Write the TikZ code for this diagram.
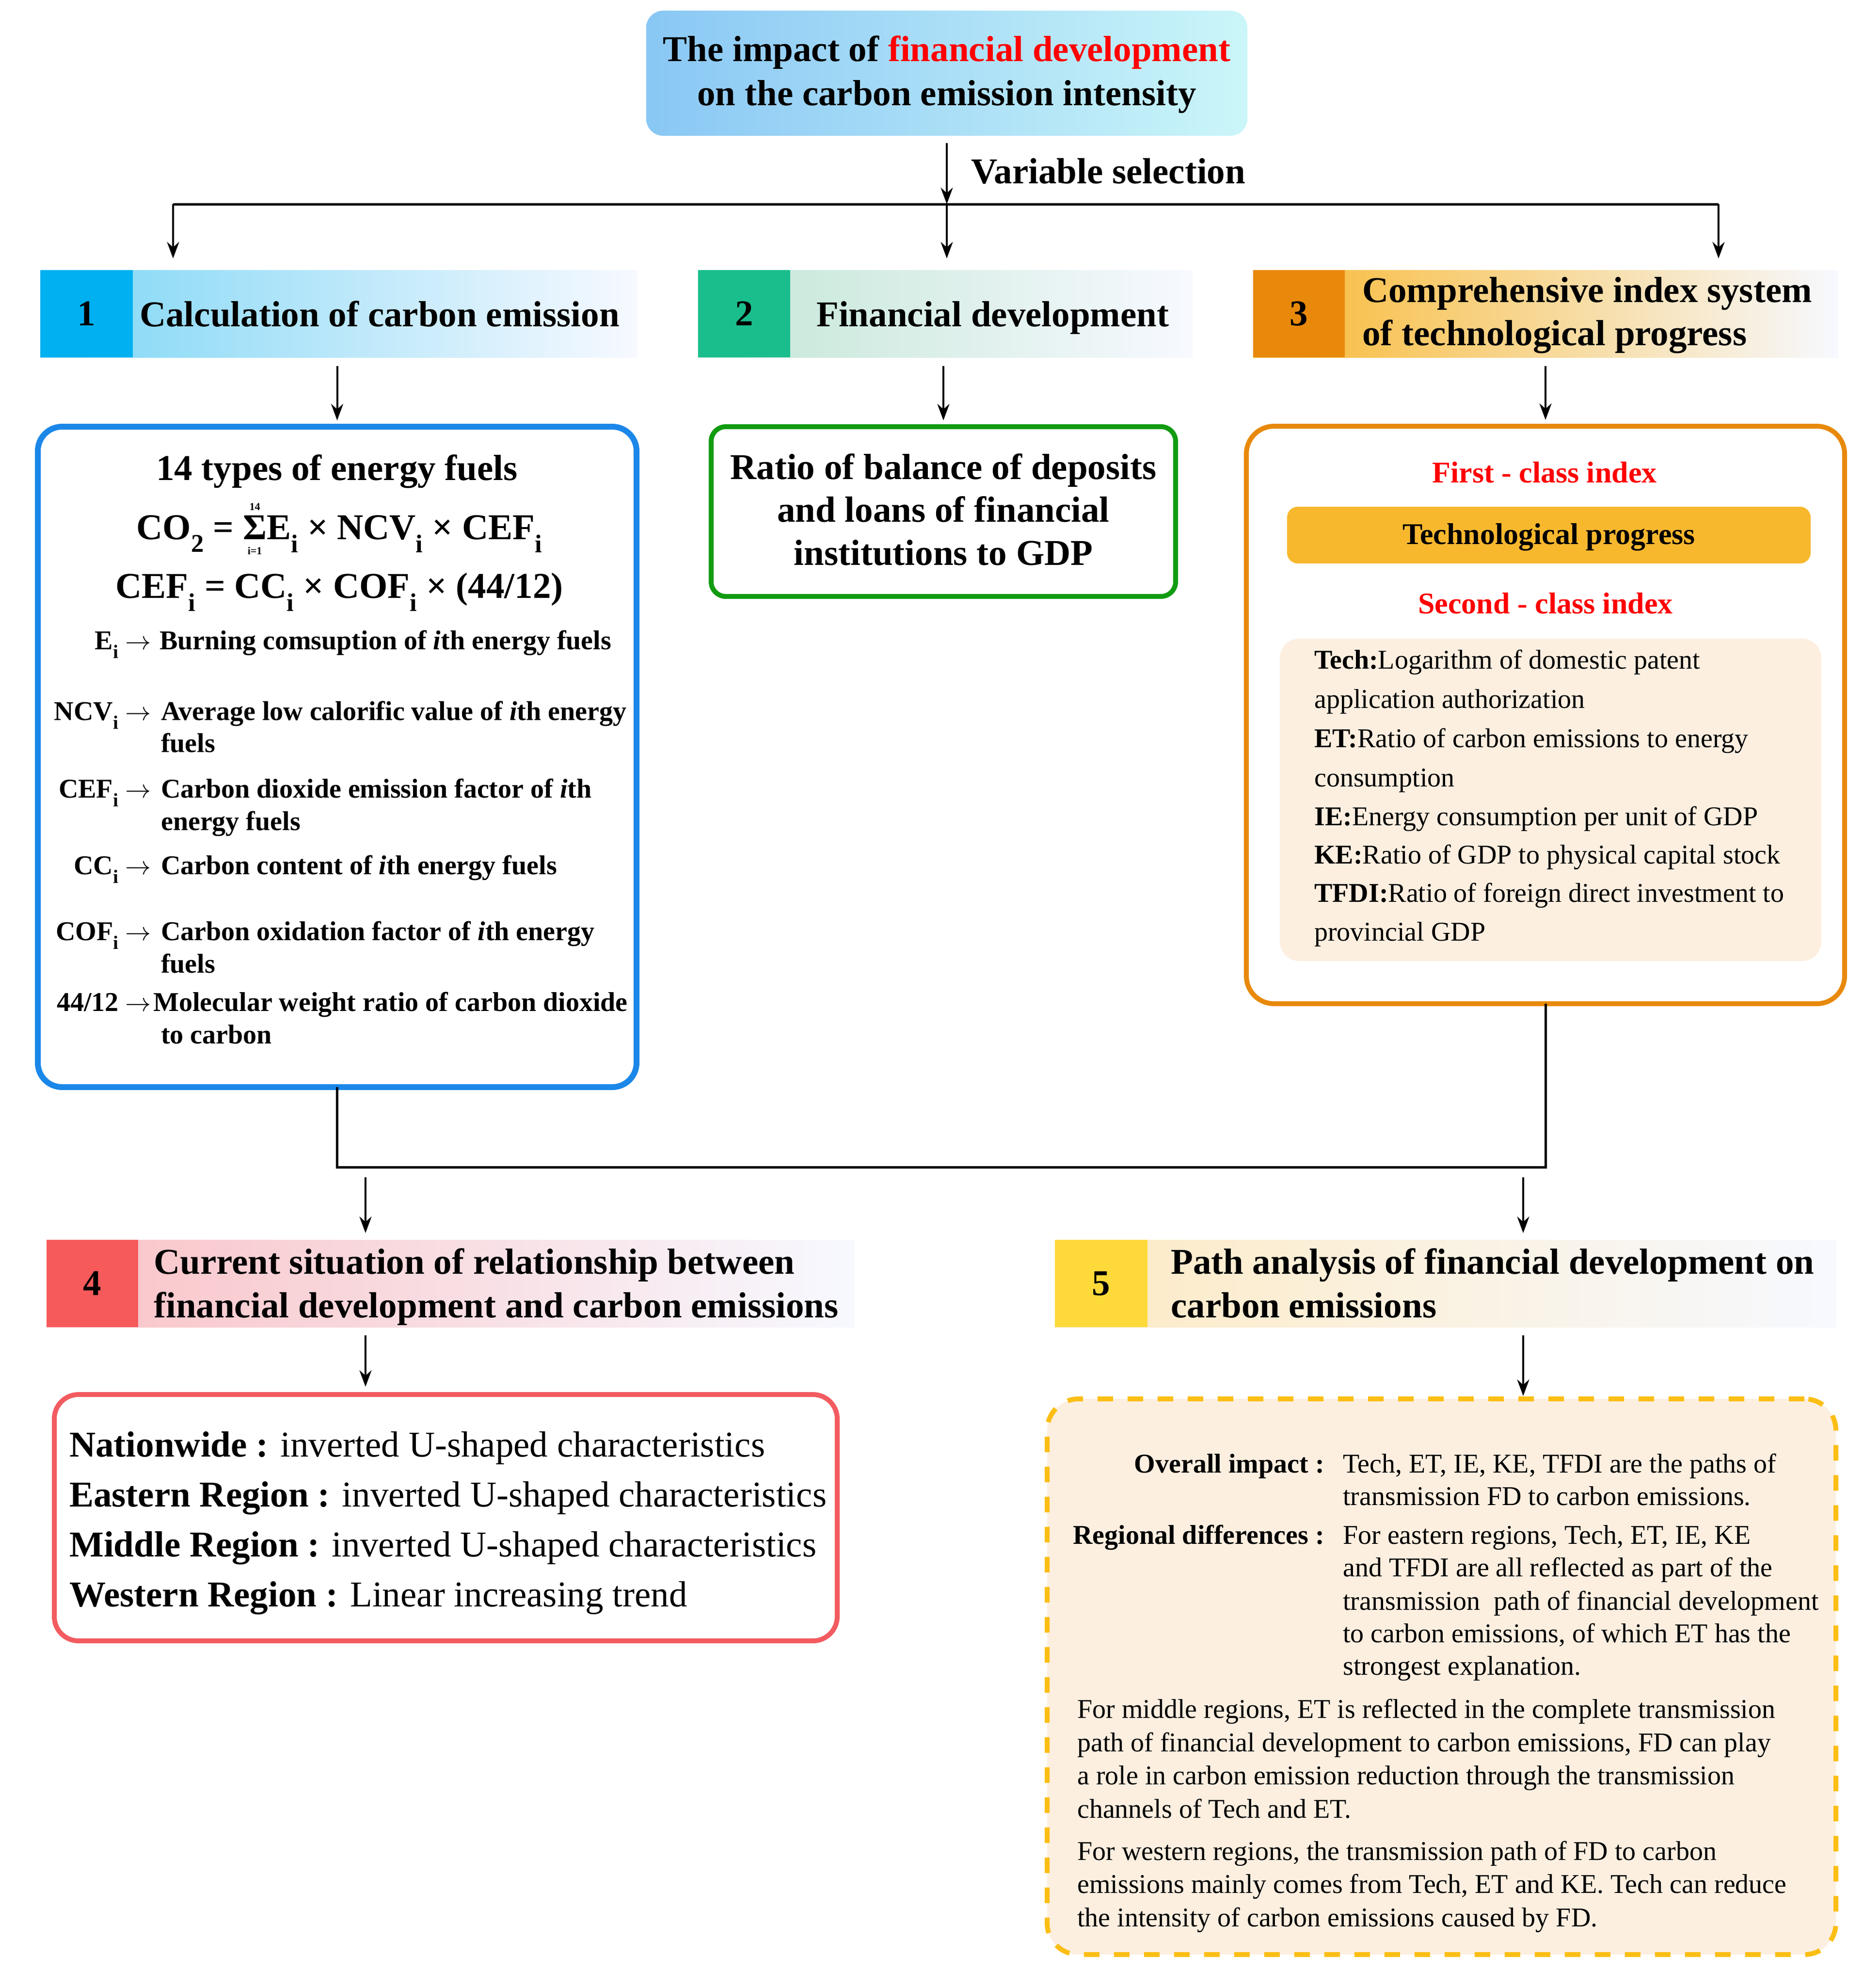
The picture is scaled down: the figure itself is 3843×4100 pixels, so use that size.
\documentclass[tikz,border=0pt]{standalone}
\usepackage{fontspec}
\usepackage{graphicx}
\setmainfont{Liberation Serif}
\usetikzlibrary{arrows.meta}
\definecolor{tL}{RGB}{137,199,244}
\definecolor{tR}{RGB}{203,246,249}
\definecolor{n1c}{RGB}{0,176,240}
\definecolor{h1L}{RGB}{125,214,245}
\definecolor{n2c}{RGB}{26,190,141}
\definecolor{h2L}{RGB}{194,230,213}
\definecolor{n3c}{RGB}{232,137,12}
\definecolor{h3L}{RGB}{248,184,48}
\definecolor{n4c}{RGB}{246,90,90}
\definecolor{h4L}{RGB}{249,194,198}
\definecolor{n5c}{RGB}{253,218,58}
\definecolor{h5L}{RGB}{253,234,196}
\definecolor{hR}{RGB}{247,249,255}
\definecolor{b1c}{RGB}{27,135,232}
\definecolor{b2c}{RGB}{17,155,17}
\definecolor{b3c}{RGB}{232,137,12}
\definecolor{b4c}{RGB}{242,91,96}
\definecolor{b5c}{RGB}{251,190,20}
\definecolor{beige}{RGB}{253,239,224}
\definecolor{barc}{RGB}{248,184,46}
\definecolor{fdred}{RGB}{255,0,0}
\newcommand\fsA{\fontsize{75}{90}\selectfont}
\newcommand\fsB{\fontsize{62}{75}\selectfont}
\newcommand\fsC{\fontsize{56}{68}\selectfont}
\newcommand\sbi{\textsubscript{i}}
\newcommand\arw{\resizebox{0.95em}{!}{$\rightarrow$}}
\newcommand\sumop{\setbox0\hbox{Σ}\leavevmode\hbox to\wd0{\hss\raisebox{0.8em}{\fontsize{22}{22}\selectfont 14}\hss}\kern-\wd0\hbox to\wd0{\hss\raisebox{-0.42em}{\fontsize{22}{22}\selectfont i=1}\hss}\kern-\wd0\box0}
\begin{document}
\begin{tikzpicture}[x=1pt,y=-1pt,
  tx/.style={inner sep=0pt, anchor=base},
  txw/.style={inner sep=0pt, anchor=base west},
  txe/.style={inner sep=0pt, anchor=base east},
  hdr/.style={minimum height=180pt, inner sep=0pt, outer sep=0pt, draw=none},
  num/.style={minimum height=180pt, inner sep=0pt, outer sep=0pt, font=\fsA\bfseries},
  frame/.style={inner sep=0pt, outer sep=0pt, line width=10pt},
  arr/.style={line width=4pt, -{Stealth[length=34pt,width=25pt]}},
  conn/.style={line width=5pt}]
\useasboundingbox (0,0) rectangle (3843,4100);
\fill[white] (0,0) rectangle (3843,4100);

% title
\node[rounded corners=35pt, left color=tL, right color=tR, minimum width=1240pt, minimum height=258pt, inner sep=0pt, outer sep=0pt] (title) at (1953,151) {};
\node[tx, font=\fsA\bfseries] (tl1) at (1953,127) {The impact of \textcolor{fdred}{financial development}};
\node[tx, font=\fsA\bfseries] (tl2) at (1953,217) {on the carbon emission intensity};
\node[txw, font=\fsA\bfseries] (vsel) at (2003,378) {Variable selection};

% headers
\node[hdr, left color=h1L, right color=hR, minimum width=1232pt] (h1) at (699,647) {};
\node[num, fill=n1c, minimum width=191pt] (n1) at (178.5,647) {1};
\node[txw, font=\fsA\bfseries] (h1t) at (288,673) {Calculation of carbon emission};

\node[hdr, left color=h2L, right color=hR, minimum width=1020pt] (h2) at (1950,647) {};
\node[num, fill=n2c, minimum width=190pt] (n2) at (1535,647) {2};
\node[txw, font=\fsA\bfseries] (h2t) at (1684,673) {Financial development};

\node[hdr, left color=h3L, right color=hR, minimum width=1207pt] (h3) at (3188.5,647) {};
\node[num, fill=n3c, minimum width=189pt] (n3) at (2679.5,647) {3};
\node[txw, font=\fsA\bfseries] (h3t1) at (2810,623) {Comprehensive index system};
\node[txw, font=\fsA\bfseries] (h3t2) at (2810,712) {of technological progress};

% top connectors
\coordinate (vs) at (1953,421);
\coordinate (cl) at (357,421);
\coordinate (cr) at (3545,421);
\draw[arr, shorten <=15pt] (title.south) -- (vs);
\draw[conn] (cl) -- (cr);
\draw[arr, shorten >=24pt] (cl) -- (cl |- h1.north);
\draw[arr, shorten >=24pt] (vs) -- (vs |- h2.north);
\draw[arr, shorten >=24pt] (cr) -- (cr |- h3.north);

% box 1
\node[frame, draw=b1c, line width=12pt, rounded corners=50pt, minimum width=1235pt, minimum height=1362pt] (b1) at (695.5,1561) {};
\node[tx, font=\fsA\bfseries] (b1t) at (695,990) {14 types of energy fuels};
\node[tx, font=\fsA\bfseries] (eq1) at (700,1112) {CO\textsubscript{2} = \sumop E\sbi{} × NCV\sbi{} × CEF\sbi};
\node[tx, font=\fsA\bfseries] (eq2) at (700,1233) {CEF\sbi{} = CC\sbi{} × COF\sbi{} × (44/12)};
\node[txe, font=\fsC\bfseries] (d1l) at (312,1339) {E\sbi{} \arw};
\node[txw, font=\fsC\bfseries] (d1a) at (329,1339) {Burning comsuption of \textit{i}th energy fuels};
\node[txe, font=\fsC\bfseries] (d2l) at (312,1485) {NCV\sbi{} \arw};
\node[txw, font=\fsC\bfseries] (d2a) at (332,1485) {Average low calorific value of \textit{i}th energy};
\node[txw, font=\fsC\bfseries] (d2b) at (332,1551) {fuels};
\node[txe, font=\fsC\bfseries] (d3l) at (312,1645) {CEF\sbi{} \arw};
\node[txw, font=\fsC\bfseries] (d3a) at (332,1645) {Carbon dioxide emission factor of \textit{i}th};
\node[txw, font=\fsC\bfseries] (d3b) at (332,1712) {energy fuels};
\node[txe, font=\fsC\bfseries] (d4l) at (312,1803) {CC\sbi{} \arw};
\node[txw, font=\fsC\bfseries] (d4a) at (332,1803) {Carbon content of \textit{i}th energy fuels};
\node[txe, font=\fsC\bfseries] (d5l) at (312,1939) {COF\sbi{} \arw};
\node[txw, font=\fsC\bfseries] (d5a) at (332,1939) {Carbon oxidation factor of \textit{i}th energy};
\node[txw, font=\fsC\bfseries] (d5b) at (332,2006) {fuels};
\node[txe, font=\fsC\bfseries] (d6l) at (312,2085) {44/12 \arw};
\node[txw, font=\fsC\bfseries] (d6a) at (316,2085) {Molecular weight ratio of carbon dioxide};
\node[txw, font=\fsC\bfseries] (d6b) at (332,2152) {to carbon};

% box 2
\node[frame, draw=b2c, rounded corners=30pt, minimum width=958pt, minimum height=350pt] (b2) at (1946,1055) {};
\node[tx, font=\fsA\bfseries] (b2a) at (1946,988) {Ratio of balance of deposits};
\node[tx, font=\fsA\bfseries] (b2b) at (1946,1076) {and loans of financial};
\node[tx, font=\fsA\bfseries] (b2c) at (1946,1165) {institutions to GDP};

% box 3
\node[frame, draw=b3c, rounded corners=57pt, minimum width=1234pt, minimum height=1191pt] (b3) at (3188,1474.5) {};
\node[tx, font=\fsB\bfseries, text=fdred] (fc) at (3186,995) {First - class index};
\node[inner sep=0pt, outer sep=0pt, fill=barc, rounded corners=22pt, minimum width=1080pt, minimum height=117pt] (bar) at (3195,1103.5) {};
\node[tx, font=\fsB\bfseries] (bart) at (3195,1122) {Technological progress};
\node[tx, font=\fsB\bfseries, text=fdred] (sc) at (3188,1265) {Second - class index};
\node[inner sep=0pt, outer sep=0pt, fill=beige, rounded corners=40pt, minimum width=1117pt, minimum height=665pt] (inner) at (3198.5,1649.5) {};
\node[txw, font=\fsC] (i1) at (2711,1379) {\textbf{Tech:}Logarithm of domestic patent};
\node[txw, font=\fsC] (i2) at (2711,1460) {application authorization};
\node[txw, font=\fsC] (i3) at (2711,1541) {\textbf{ET:}Ratio of carbon emissions to energy};
\node[txw, font=\fsC] (i4) at (2711,1622) {consumption};
\node[txw, font=\fsC] (i5) at (2711,1702) {\textbf{IE:}Energy consumption per unit of GDP};
\node[txw, font=\fsC] (i6) at (2711,1781) {\textbf{KE:}Ratio of GDP to physical capital stock};
\node[txw, font=\fsC] (i7) at (2711,1860) {\textbf{TFDI:}Ratio of foreign direct investment to};
\node[txw, font=\fsC] (i8) at (2711,1940) {provincial GDP};

% header to box arrows
\draw[arr, shorten <=18pt, shorten >=13pt] (b1.north |- h1.south) -- (b1.north);
\draw[arr, shorten <=18pt, shorten >=13pt] (b2.north |- h2.south) -- (b2.north);
\draw[arr, shorten <=18pt, shorten >=13pt] (b3.north |- h3.south) -- (b3.north);

% bottom joint
\coordinate (jy) at (0,2407);
\draw[conn] (b1.south) -- (b1.south |- jy) -- (b3.south |- jy) -- (b3.south);

% headers 4 and 5
\node[hdr, left color=h4L, right color=hR, minimum width=1666pt] (h4) at (929,2647) {};
\node[num, fill=n4c, minimum width=189pt] (n4) at (190.5,2647) {4};
\node[txw, font=\fsA\bfseries] (h4t1) at (317,2627) {Current situation of relationship between};
\node[txw, font=\fsA\bfseries] (h4t2) at (317,2717) {financial development and carbon emissions};

\node[hdr, left color=h5L, right color=hR, minimum width=1612pt] (h5) at (2982,2647) {};
\node[num, fill=n5c, minimum width=191pt] (n5) at (2271.5,2647) {5};
\node[txw, font=\fsA\bfseries] (h5t1) at (2415,2627) {Path analysis of financial development on};
\node[txw, font=\fsA\bfseries] (h5t2) at (2415,2717) {carbon emissions};

\coordinate (a4) at (754,2428);
\coordinate (a5) at (3142,2428);
\draw[arr, shorten >=14pt] (a4) -- (a4 |- h4.north);
\draw[arr, shorten >=14pt] (a5) -- (a5 |- h5.north);

% box 4
\node[frame, draw=b4c, rounded corners=50pt, minimum width=1615pt, minimum height=508pt] (b4) at (919.5,3130) {};
\node[txw, font=\fsA] (r1) at (143,3004) {\textbf{Nationwide :} inverted U-shaped characteristics};
\node[txw, font=\fsA] (r2) at (143,3107) {\textbf{Eastern Region :} inverted U-shaped characteristics};
\node[txw, font=\fsA] (r3) at (143,3210) {\textbf{Middle Region :} inverted U-shaped characteristics};
\node[txw, font=\fsA] (r4) at (143,3313) {\textbf{Western Region :} Linear increasing trend};

% box 5
\node[frame, draw=b5c, fill=beige, dash pattern=on 32pt off 30pt, rounded corners=65pt, minimum width=1627pt, minimum height=1146pt] (b5) at (2973.5,3458) {};
\node[txe, font=\fsC\bfseries] (p1l) at (2732,3037) {Overall impact :};
\node[txw, font=\fsC] (p1a) at (2770,3037) {Tech, ET, IE, KE, TFDI are the paths of};
\node[txw, font=\fsC] (p1b) at (2770,3104) {transmission FD to carbon emissions.};
\node[txe, font=\fsC\bfseries] (p2l) at (2732,3184) {Regional differences :};
\node[txw, font=\fsC] (p2a) at (2770,3184) {For eastern regions, Tech, ET, IE, KE};
\node[txw, font=\fsC] (p2b) at (2770,3251) {and TFDI are all reflected as part of the};
\node[txw, font=\fsC] (p2c) at (2770,3320) {transmission\ \ path of financial development};
\node[txw, font=\fsC] (p2d) at (2770,3387) {to carbon emissions, of which ET has the};
\node[txw, font=\fsC] (p2e) at (2770,3454) {strongest explanation.};
\node[txw, font=\fsC] (p3a) at (2222,3543) {For middle regions, ET is reflected in the complete transmission};
\node[txw, font=\fsC] (p3b) at (2222,3612) {path of financial development to carbon emissions, FD can play};
\node[txw, font=\fsC] (p3c) at (2222,3680) {a role in carbon emission reduction through the transmission};
\node[txw, font=\fsC] (p3d) at (2222,3749) {channels of Tech and ET.};
\node[txw, font=\fsC] (p4a) at (2222,3836) {For western regions, the transmission path of FD to carbon};
\node[txw, font=\fsC] (p4b) at (2222,3904) {emissions mainly comes from Tech, ET and KE. Tech can reduce};
\node[txw, font=\fsC] (p4c) at (2222,3973) {the intensity of carbon emissions caused by FD.};

\draw[arr, shorten <=17pt, shorten >=16pt] (a4 |- h4.south) -- (a4 |- b4.north);
\draw[arr, shorten <=17pt, shorten >=6pt] (a5 |- h5.south) -- (a5 |- b5.north);
\end{tikzpicture}
\end{document}
